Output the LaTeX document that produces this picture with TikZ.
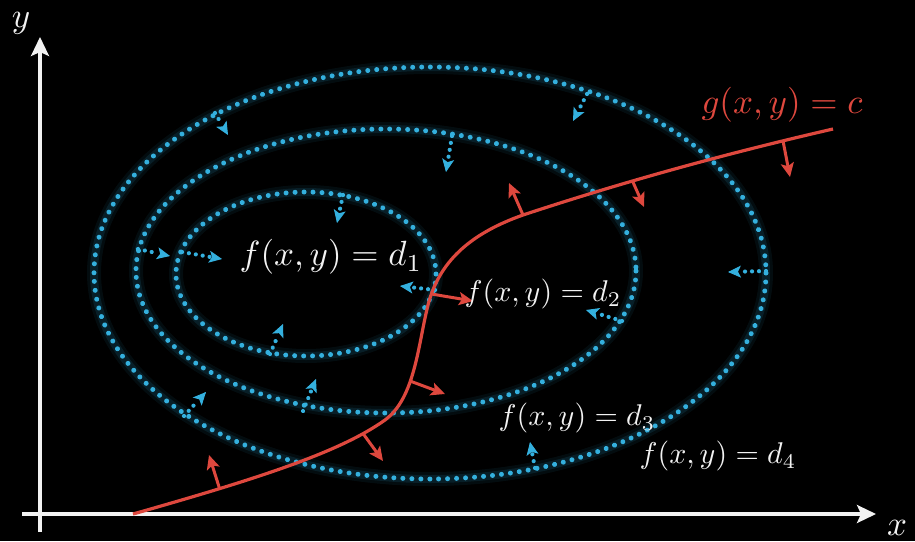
\documentclass[tikz,border=0pt]{standalone}
\usetikzlibrary{arrows.meta,decorations.markings,calc}
\definecolor{cyandot}{RGB}{52,176,222}
\definecolor{redc}{RGB}{222,72,62}
\definecolor{txt}{RGB}{242,242,242}
\newcommand{\lblbig}[1]{\scalebox{3.5}{$#1$}}
\newcommand{\lblmid}[1]{\scalebox{3.0}{$#1$}}
\begin{document}
\begin{tikzpicture}[x=1pt,y=-1pt,
  glowA/.style={cyandot, line width=14pt, opacity=0.07},
  glowB/.style={cyandot, line width=8pt, opacity=0.12},
  level/.style={decorate, decoration={markings,
     mark=between positions 0 and 1 step 9pt with {\fill[cyandot] (0,0) circle (2.5pt);}}},
  gshaft/.style={decorate, decoration={markings,
     mark=between positions 0 and -12pt step 7pt with {\fill[cyandot] (0,0) circle (2.1pt);}}},
  gtip/.style={cyandot, line width=1pt, -{Stealth[length=13pt,width=12pt,inset=3pt]}},
  gline/.style={redc, line width=3.2pt},
  normal/.style={redc, line width=3pt, -{Stealth[length=14pt,width=13pt,inset=3pt]}},
  axis/.style={txt, line width=3.2pt, -{Stealth[length=19pt,width=18pt,inset=4pt]}},
  lbl/.style={txt, inner sep=0pt}]
\fill[black] (0,0) rectangle (915,541);
\useasboundingbox (0,0) rectangle (915,541);

% level curves
\foreach \cx/\cy/\rx/\ry in {306/274/130/82, 386/271/250/142, 430/273/336/206}{
  \draw[glowA] (\cx,\cy) ellipse [x radius=\rx, y radius=\ry];
  \draw[glowB] (\cx,\cy) ellipse [x radius=\rx, y radius=\ry];
  \path[level] (\cx,\cy) ellipse [x radius=\rx, y radius=\ry];
}

% axes
\coordinate (yb) at (40,532);
\coordinate (yt) at (40,37);
\coordinate (xb) at (22,514);
\coordinate (xt) at (876,514);
\draw[axis] (yb) -- (yt);
\draw[axis] (xb) -- (xt);
\node[lbl] (ylab) at (21,23) {\lblbig{y}};
\node[lbl] (xlab) at (897,528) {\lblbig{x}};

% gradient arrows of f
\foreach \i/\bx/\by/\tx/\ty in {1/215/113/228/135, 2/452/136/446/172, 3/587/94/573/121,
  4/343/195/337/223, 5/138/249/170/256, 6/182/252/222/259, 7/435/290/400/286,
  8/270/354/283/324, 9/622/321/586/310, 10/766/271/728/272, 11/184/416/206/392,
  12/303/411/316/379, 13/535/468/530/442}{
  \coordinate (cb\i) at (\bx,\by);
  \coordinate (ct\i) at (\tx,\ty);
  \path[gshaft] (cb\i) -- (ct\i);
  \draw[gtip] ($(ct\i)!1pt!(cb\i)$) -- (ct\i);
}

% constraint curve
\coordinate (g0) at (133,514);
\coordinate (g1) at (385,420);
\coordinate (g2) at (428,305);
\coordinate (g3) at (523,215);
\coordinate (g4) at (833,129);
\draw[gline] (g0) .. controls (260,478) and (340,452) .. (g1)
  .. controls (415,398) and (418,345) .. (g2)
  .. controls (440,258) and (475,232) .. (g3)
  .. controls (620,183) and (720,155) .. (g4);

% normals of g
\foreach \i/\bx/\by/\tx/\ty in {1/219.6/488.7/209/455, 2/363/433.5/383/461, 3/410/381/445/394,
  4/431.5/294/473/301, 5/523/215/509/183, 6/632.5/181/644/207, 7/783/140.8/790/177}{
  \coordinate (rb\i) at (\bx,\by);
  \coordinate (rt\i) at (\tx,\ty);
  \draw[normal] (rb\i) -- (rt\i);
}

% labels
\node[lbl, text=redc] (glab) at (782,105) {\lblbig{g(x,y)=c}};
\node[lbl] (d1) at (331,257) {\lblbig{f(x,y)=d_1}};
\node[lbl] (d2) at (543,294) {\lblmid{f(x,y)=d_2}};
\node[lbl] (d3) at (577,418) {\lblmid{f(x,y)=d_3}};
\node[lbl] (d4) at (718,456) {\lblmid{f(x,y)=d_4}};
\end{tikzpicture}
\end{document}
